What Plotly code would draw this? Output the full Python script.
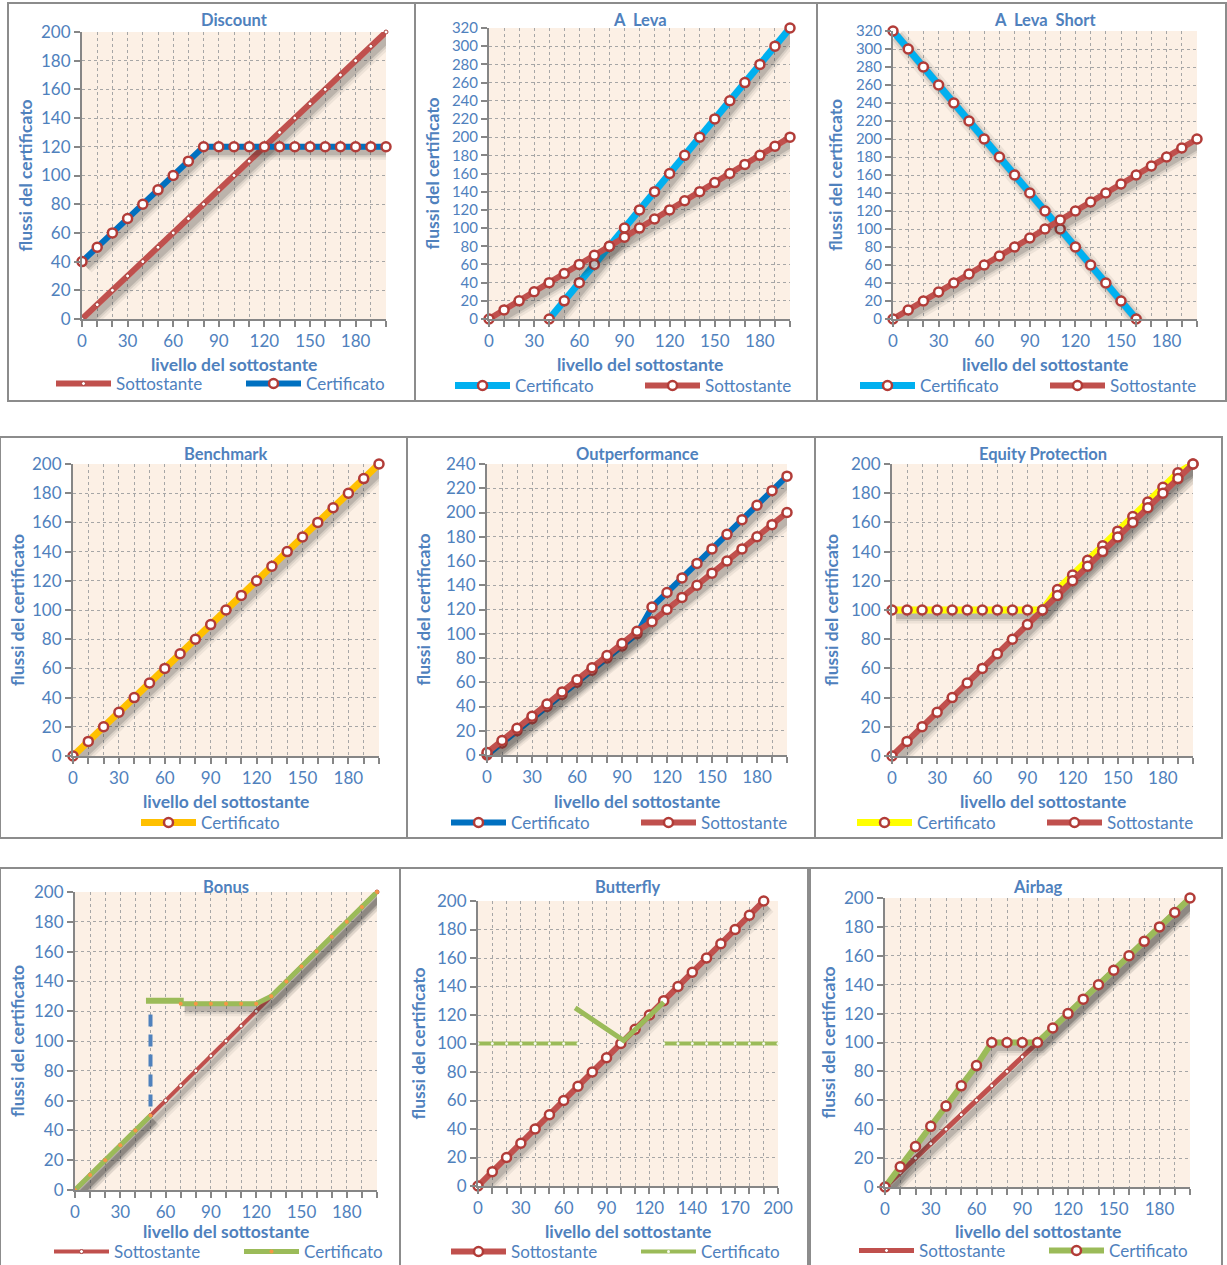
import plotly.graph_objects as go

W, H = 1227, 1265
FONT = "Lato"
TXT = "#4F81BD"
RED = "#C0504D"
AXIS = "#868686"
GRID = "#A6A6A6"
BG = "#FCF0E5"

# ---------------- data ----------------
levels = [0, 10, 20, 30, 40, 50, 60, 70, 80, 90, 100, 110, 120, 130, 140, 150, 160, 170, 180, 190, 200]
level_labels = ["0", "", "", "30", "", "", "60", "", "", "90", "", "", "120", "", "", "150", "", "", "180", "", ""]

sottostante = [0, 10, 20, 30, 40, 50, 60, 70, 80, 90, 100, 110, 120, 130, 140, 150, 160, 170, 180, 190, 200]

discount_cert = [40, 50, 60, 70, 80, 90, 100, 110, 120, 120, 120, 120, 120, 120, 120, 120, 120, 120, 120, 120, 120]

leva_cert = [None, None, None, None, 0, 20, 40, 60, 80, 100, 120, 140, 160, 180, 200, 220, 240, 260, 280, 300, 320]

leva_short_cert = [320, 300, 280, 260, 240, 220, 200, 180, 160, 140, 120, 100, 80, 60, 40, 20, 0, None, None, None, None]

benchmark_cert = [0, 10, 20, 30, 40, 50, 60, 70, 80, 90, 100, 110, 120, 130, 140, 150, 160, 170, 180, 190, 200]

outperf_cert = [0, 10, 20, 30, 40, 50, 60, 70, 80, 90, 100, 122, 134, 146, 158, 170, 182, 194, 206, 218, 230]
outperf_sott = [2, 12, 22, 32, 42, 52, 62, 72, 82, 92, 102, 110, 120, 130, 140, 150, 160, 170, 180, 190, 200]

equity_cert = [100, 100, 100, 100, 100, 100, 100, 100, 100, 100, 100, 114, 124, 134, 144, 154, 164, 174, 184, 194, 200]

bonus_cert = [0, 10, 20, 30, 40, 50, None, 125, 125, 125, 125, 125, 125, 130, 140, 150, 160, 170, 180, 190, 200]
bonus_barrier_x = [50, 50]
bonus_barrier_y = [56, 122]
bonus_level_x = [47, 72]
bonus_level_y = [127, 127]

butterfly_idx = [0, 1, 2, 3, 4, 5, 6, 7, 8, 9, 10, 11, 12, 13, 14, 15, 16, 17, 18, 19, 20, 21]
butterfly_labels = ["0", "", "", "30", "", "", "60", "", "", "90", "", "", "120", "", "", "140", "", "", "170", "", "", "200"]
butterfly_sott = [0, 10, 20, 30, 40, 50, 60, 70, 80, 90, 100, 110, 120, 130, 140, 150, 160, 170, 180, 190, 200, None]
butterfly_cert = [100, 100, 100, 100, 100, 100, 100, 100, None, None, None, None, None,
                  100, 100, 100, 100, 100, 100, 100, 100, 100]
butterfly_v_x = [6.8, 10.2, 13.0]
butterfly_v_y = [125, 102, 129]

airbag_cert = [0, 14, 28, 42, 56, 70, 84, 100, 100, 100, 100, 110, 120, 130, 140, 150, 160, 170, 180, 190, 200]

# ---------------- layout (pixel boxes) ----------------
panels = [
    dict(title="Discount", plot=(82, 386, 32, 319), frame=(8, 3, 415, 401), ymax=200, ytx=25, xl_y=364, lg_y=384, lg_x=51),
    dict(title="A  Leva", plot=(489, 790, 28, 319), frame=(415, 3, 817, 401), ymax=320, ytx=432, xl_y=364, lg_y=386, lg_x=450),
    dict(title="A  Leva  Short", plot=(893, 1197, 31, 319), frame=(817, 3, 1226, 401), ymax=320, ytx=836, xl_y=364, lg_y=386, lg_x=855),
    dict(title="Benchmark", plot=(73, 379, 464, 756), frame=(0, 437, 407, 838), ymax=200, ytx=17, xl_y=801, lg_y=823, lg_x=136),
    dict(title="Outperformance", plot=(487, 787, 464, 755), frame=(407, 437, 815, 838), ymax=240, ytx=423, xl_y=801, lg_y=823, lg_x=446),
    dict(title="Equity Protection", plot=(892, 1193, 464, 756), frame=(815, 437, 1222, 838), ymax=200, ytx=831, xl_y=801, lg_y=823, lg_x=852),
    dict(title="Bonus", plot=(75, 377, 892, 1190), frame=(0, 868, 400, 1266), ymax=200, ytx=17, xl_y=1231, lg_y=1252, lg_x=49),
    dict(title="Butterfly", plot=(478, 778, 901, 1186), frame=(400, 868, 808, 1266), ymax=200, ytx=418, xl_y=1231, lg_y=1252, lg_x=446),
    dict(title="Airbag", plot=(885, 1190, 898, 1187), frame=(810, 868, 1222, 1266), ymax=200, ytx=828, xl_y=1231, lg_y=1251, lg_x=854),
]


def px_x(p):
    return p / W


def px_y(p):
    return 1 - p / H


mk_big = dict(symbol="circle", size=9, color="white", line=dict(color="#B23C38", width=2.5))
mk_small = dict(symbol="circle", size=4, color="white", line=dict(color="#A8403C", width=1))
mk_orange = dict(symbol="circle", size=4, color="#F79646", line=dict(width=0))
mk_tiny = dict(symbol="circle", size=3, color="#F6F9EE", line=dict(width=0))

fig = go.Figure()


def ax_names(i):
    return ("x" if i == 1 else f"x{i}"), ("y" if i == 1 else f"y{i}")


def shadow(i, xs, ys, width, xr):
    p = panels[i - 1]
    l, r, t, b = p["plot"]
    dx = 4.0 * (xr[1] - xr[0]) / (r - l)
    dy = 5.0 * p["ymax"] / (b - t)
    sx = [None if (y is None) else x + dx for x, y in zip(xs, ys)]
    sy = [None if (y is None) else y - dy for y in ys]
    xa, ya = ax_names(i)
    for w, a in ((width + 10, 0.07), (width + 5, 0.10), (width + 1, 0.16)):
        fig.add_trace(go.Scatter(x=sx, y=sy, xaxis=xa, yaxis=ya, mode="lines",
                                 line=dict(color=f"rgba(40,40,40,{a})", width=w),
                                 showlegend=False, hoverinfo="skip"))


def series(i, name, xs, ys, color, width, marker=None, dash=None, legend=True, shade=True, xr=(0, 200)):
    if shade:
        shadow(i, xs, ys, width, xr)
    xa, ya = ax_names(i)
    fig.add_trace(go.Scatter(
        x=xs, y=ys, xaxis=xa, yaxis=ya, name=name,
        mode="lines+markers" if marker else "lines",
        line=dict(color=color, width=width, dash=dash),
        marker=marker, showlegend=legend, cliponaxis=False,
        legend="legend" if i == 1 else f"legend{i}",
    ))


# 1 Discount
series(1, "Sottostante", levels, sottostante, RED, 6, mk_small)
series(1, "Certificato", levels, discount_cert, "#0070C0", 6, mk_big)
# 2 A Leva
series(2, "Certificato", levels, leva_cert, "#00B0F0", 7, mk_big)
series(2, "Sottostante", levels, sottostante, RED, 6, mk_big)
# 3 A Leva Short
series(3, "Certificato", levels, leva_short_cert, "#00B0F0", 7, mk_big)
series(3, "Sottostante", levels, sottostante, RED, 6, mk_big)
# 4 Benchmark
series(4, "Certificato", levels, benchmark_cert, "#FFC000", 7, mk_big)
# 5 Outperformance
series(5, "Certificato", levels, outperf_cert, "#0070C0", 6, mk_big)
series(5, "Sottostante", levels, outperf_sott, RED, 6, mk_big)
# 6 Equity Protection
series(6, "Certificato", levels, equity_cert, "#FFFF00", 7, mk_big)
series(6, "Sottostante", levels, sottostante, RED, 6, mk_big)
# 7 Bonus
series(7, "Sottostante", levels, sottostante, RED, 4, mk_small)
series(7, "barrier", bonus_barrier_x, bonus_barrier_y, "#4F81BD", 4, None, dash="12px,8px", legend=False, shade=False)
series(7, "level", bonus_level_x, bonus_level_y, "#9BBB59", 6, None, legend=False, shade=False)
series(7, "Certificato", levels, bonus_cert, "#9BBB59", 5, mk_orange)
# 8 Butterfly
series(8, "Sottostante", butterfly_idx, butterfly_sott, RED, 6, mk_big, xr=(0, 21))
series(8, "Certificato", butterfly_idx, butterfly_cert, "#9BBB59", 4, mk_tiny, shade=False, xr=(0, 21))
series(8, "v", butterfly_v_x, butterfly_v_y, "#9BBB59", 5, None, legend=False, shade=False, xr=(0, 21))
# 9 Airbag
series(9, "Sottostante", levels, sottostante, RED, 5, mk_small)
series(9, "Certificato", levels, airbag_cert, "#9BBB59", 6, mk_big)

layout = dict(
    width=W, height=H, margin=dict(l=0, r=0, t=0, b=0, autoexpand=False),
    paper_bgcolor="white", plot_bgcolor=BG,
    font=dict(family=FONT, color=TXT, size=17),
    shapes=[], annotations=[],
)

for i, p in enumerate(panels, start=1):
    l, r, t, b = p["plot"]
    xa, ya = ax_names(i)
    xkey = "xaxis" if i == 1 else f"xaxis{i}"
    ykey = "yaxis" if i == 1 else f"yaxis{i}"
    common = dict(showgrid=True, gridcolor=GRID, griddash="dot", gridwidth=1,
                  showline=True, linecolor=AXIS, linewidth=2, zeroline=False,
                  ticks="outside", ticklen=6, tickwidth=2, tickcolor=AXIS,
                  fixedrange=True)
    yfont = 15 if p["ymax"] > 300 else 17
    if i == 8:
        xt = dict(range=[0, 21], tickmode="array", tickvals=butterfly_idx, ticktext=butterfly_labels)
    else:
        xt = dict(range=[0, 200], tickmode="array", tickvals=levels, ticktext=level_labels)
    layout[xkey] = dict(domain=[px_x(l), px_x(r)], anchor=ya, **xt, **common,
                        tickfont=dict(family=FONT, size=17, color=TXT))
    layout[ykey] = dict(domain=[px_y(b), px_y(t)], anchor=xa, range=[0, p["ymax"]],
                        tickmode="linear", tick0=0, dtick=20, **common,
                        tickfont=dict(family=FONT, size=yfont, color=TXT))
    fl, ft, fr, fb = p["frame"]
    layout["shapes"].append(dict(type="rect", xref="paper", yref="paper",
                                 x0=px_x(fl), x1=px_x(fr), y0=px_y(fb), y1=px_y(ft),
                                 line=dict(color="#8C8C8C", width=2), layer="below"))
    cx = (l + r) / 2
    title_y = ft + 17 if i <= 6 else 887
    layout["annotations"].append(dict(text=f"<b>{p['title']}</b>", xref="paper", yref="paper",
                                      x=px_x(cx), y=px_y(title_y), showarrow=False,
                                      xanchor="center", yanchor="middle",
                                      font=dict(family=FONT, size=16.5, color=TXT)))
    layout["annotations"].append(dict(text="<b>livello del sottostante</b>", xref="paper", yref="paper",
                                      x=px_x(cx), y=px_y(p["xl_y"]), showarrow=False,
                                      xanchor="center", yanchor="middle",
                                      font=dict(family=FONT, size=17.5, color=TXT)))
    layout["annotations"].append(dict(text="<b>flussi del certificato</b>", xref="paper", yref="paper",
                                      x=px_x(p["ytx"]), y=px_y((t + b) / 2), showarrow=False, textangle=-90,
                                      xanchor="center", yanchor="middle",
                                      font=dict(family=FONT, size=17.5, color=TXT)))
    lkey = "legend" if i == 1 else f"legend{i}"
    layout[lkey] = dict(orientation="h", x=px_x(p["lg_x"]), y=px_y(p["lg_y"]),
                        xanchor="left", yanchor="middle", entrywidth=120, entrywidthmode="pixels",
                        itemwidth=55,
                        bgcolor="rgba(0,0,0,0)", font=dict(family=FONT, size=17, color=TXT),
                        itemclick=False, itemdoubleclick=False)

fig.update_layout(**layout)

fig.write_html("out.html", config={"displayModeBar": False},
               post_script="document.body.style.margin='0';document.body.style.overflow='hidden';")
